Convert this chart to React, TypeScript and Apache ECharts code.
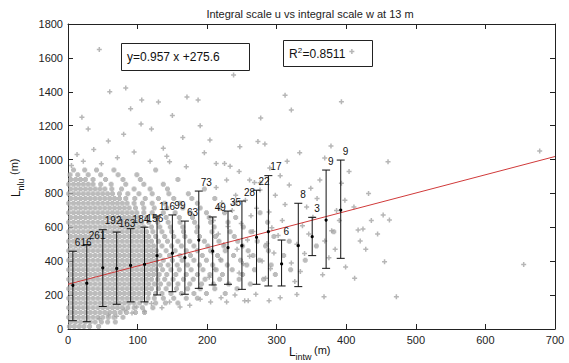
import React, { useEffect, useRef } from "react";
import * as echarts from "echarts";

const FONT = '"Liberation Sans", Arial, sans-serif';
const TITLE = "Integral scale u vs integral scale w at 13 m";
const EQUATION = "y=0.957 x +275.6";
const R2_VALUE = "=0.8511";

// Bin statistics (mean x of bin, mean, lower, upper, count)
const binX = [7, 27, 50, 70, 90, 110, 128, 150, 168, 188, 208, 230, 250, 271, 288, 307, 331, 351, 371, 392];
const binMean = [258, 270, 361, 357, 375, 381, 433, 447, 421, 525, 460, 480, 492, 541, 574, 384, 492, 545, 643, 702];
const binLow = [49, 43, 133, 146, 160, 160, 201, 220, 205, 240, 260, 264, 234, 264, 254, 254, 250, 433, 358, 417];
const binHigh = [459, 498, 586, 572, 592, 601, 667, 673, 637, 814, 661, 696, 755, 819, 905, 525, 742, 659, 938, 997];
const binCount = [616, 261, 192, 163, 184, 156, 116, 99, 63, 73, 49, 35, 28, 22, 17, 6, 8, 3, 9, 9];

// Fitted line as drawn
const fitX = [0, 700];
const fitY = [264, 1018];

// Dense cloud, row by row: [y, x values]
const denseRows: [number, number[]][] = [
  [15, [2, 9, 16, 23, 31, 44]],
  [42, [4, 11, 18, 25, 32, 39, 48, 57, 68]],
  [70, [1, 8, 15, 22, 29, 36, 43, 50, 58, 66, 79]],
  [98, [4, 11, 18, 25, 32, 39, 46, 53, 60, 67, 75, 84, 97, 110]],
  [126, [1, 8, 15, 22, 29, 36, 43, 50, 57, 64, 71, 78, 86, 95, 107, 122]],
  [154, [4, 11, 18, 25, 32, 39, 46, 53, 60, 67, 74, 81, 88, 95, 103, 112, 126, 140, 158]],
  [182, [1, 8, 15, 22, 29, 36, 43, 50, 57, 64, 71, 78, 85, 92, 99, 106, 115, 124, 137, 152, 170, 186]],
  [210, [4, 11, 18, 25, 32, 39, 46, 53, 60, 67, 74, 81, 88, 95, 102, 109, 116, 126, 135, 148, 163, 181, 199, 226]],
  [238, [1, 8, 15, 22, 29, 36, 43, 50, 57, 64, 71, 78, 85, 92, 99, 106, 113, 120, 130, 141, 156, 172, 190, 211, 243]],
  [266, [4, 11, 18, 25, 32, 39, 46, 53, 60, 67, 74, 81, 88, 95, 102, 109, 116, 124, 133, 145, 158, 175, 192, 209, 231, 262]],
  [294, [1, 8, 15, 22, 29, 36, 43, 50, 57, 64, 71, 78, 85, 92, 99, 106, 113, 120, 129, 139, 151, 166, 180, 197, 218, 246, 281]],
  [322, [4, 11, 18, 25, 32, 39, 46, 53, 60, 67, 74, 81, 88, 95, 102, 109, 116, 123, 131, 142, 155, 170, 186, 204, 222, 251, 298]],
  [350, [1, 8, 15, 22, 29, 36, 43, 50, 57, 64, 71, 78, 85, 92, 99, 106, 113, 120, 127, 136, 148, 160, 177, 194, 213, 236, 268, 320]],
  [378, [4, 11, 18, 25, 32, 39, 46, 53, 60, 67, 74, 81, 88, 95, 102, 109, 116, 123, 133, 144, 157, 172, 189, 208, 229, 257, 292]],
  [406, [1, 8, 15, 22, 29, 36, 43, 50, 57, 64, 71, 78, 85, 92, 99, 106, 113, 120, 127, 137, 150, 164, 181, 199, 220, 248, 275, 341]],
  [434, [4, 11, 18, 25, 32, 39, 46, 53, 60, 67, 74, 81, 88, 95, 102, 109, 116, 123, 132, 146, 161, 176, 193, 215, 238, 266, 310]],
  [462, [1, 8, 15, 22, 29, 36, 43, 50, 57, 64, 71, 78, 85, 92, 99, 106, 113, 120, 127, 141, 154, 170, 186, 205, 226, 259, 288]],
  [490, [4, 11, 18, 25, 32, 39, 46, 53, 60, 67, 74, 81, 88, 95, 102, 109, 116, 123, 135, 149, 163, 181, 201, 224, 251, 284, 357]],
  [518, [1, 8, 15, 22, 29, 36, 43, 50, 57, 64, 71, 78, 85, 92, 99, 106, 113, 120, 130, 143, 158, 175, 196, 217, 244, 272, 318]],
  [546, [4, 11, 18, 25, 32, 39, 46, 53, 60, 67, 74, 81, 88, 95, 102, 109, 116, 126, 139, 152, 168, 189, 212, 239, 296]],
  [574, [1, 8, 15, 22, 29, 36, 43, 50, 57, 64, 71, 78, 85, 92, 99, 106, 113, 122, 135, 149, 166, 185, 207, 233, 263, 382]],
  [602, [4, 11, 18, 25, 32, 39, 46, 53, 60, 67, 74, 81, 88, 95, 102, 109, 120, 132, 147, 165, 186, 210, 252]],
  [630, [1, 8, 15, 22, 29, 36, 43, 50, 57, 64, 71, 78, 85, 92, 99, 106, 116, 129, 144, 161, 182, 205, 230, 287]],
  [658, [4, 11, 18, 25, 32, 39, 46, 53, 60, 67, 74, 81, 88, 95, 102, 113, 126, 141, 160, 179, 203, 241]],
  [686, [1, 8, 15, 22, 29, 36, 43, 50, 57, 64, 71, 78, 85, 92, 99, 109, 121, 137, 154, 176, 199, 225, 276]],
  [714, [4, 11, 18, 25, 32, 39, 46, 53, 60, 67, 74, 81, 88, 97, 109, 124, 142, 165, 190, 218]],
  [742, [1, 8, 15, 22, 29, 36, 43, 50, 57, 64, 71, 78, 85, 95, 107, 121, 139, 161, 186, 240]],
  [770, [4, 11, 18, 25, 32, 39, 46, 53, 60, 67, 74, 83, 96, 111, 130, 152, 178, 211]],
  [798, [1, 8, 15, 22, 29, 36, 43, 50, 57, 64, 74, 86, 102, 121, 145, 173]],
  [826, [4, 11, 18, 25, 32, 39, 46, 53, 63, 77, 95, 118, 143, 196]],
  [854, [1, 8, 15, 22, 29, 36, 47, 62, 83, 109, 137]],
  [882, [4, 11, 18, 25, 36, 54, 79, 104, 158]],
  [910, [3, 14, 29, 47, 72, 99]],
  [938, [8, 24, 41, 66, 126]],
];

// Points below the dense cloud
const lowerPoints: [number, number][] = [
  [45, 60], [58, 83], [70, 75], [81, 112], [92, 95], [99, 130], [110, 105], [120, 150],
  [135, 125], [146, 160], [161, 130], [175, 140], [190, 175], [205, 160], [220, 185],
  [228, 160], [240, 200], [254, 166], [259, 166], [270, 205], [289, 166], [305, 185],
  [329, 204], [368, 191], [472, 191],
];

// Sparser cloud to the right
const midPoints: [number, number][] = [
  [203, 305], [211, 352], [219, 410], [207, 455], [224, 498], [216, 560], [230, 605], [209, 640],
  [236, 700], [221, 745], [241, 790], [213, 835], [228, 880], [246, 330], [252, 385], [261, 430],
  [243, 470], [258, 525], [266, 575], [249, 622], [263, 668], [271, 712], [255, 760], [276, 820],
  [268, 865], [284, 300], [291, 355], [279, 402], [296, 448], [286, 505], [302, 552], [293, 598],
  [308, 640], [289, 690], [312, 735], [298, 790], [318, 850], [305, 905], [326, 280], [334, 340],
  [321, 390], [340, 445], [329, 500], [346, 560], [337, 610], [352, 660], [343, 720], [358, 770],
  [349, 830], [362, 880], [366, 320], [375, 420], [369, 520], [384, 470], [379, 580], [390, 640],
  [386, 700], [398, 760], [393, 860], [404, 930], [412, 300], [420, 520], [428, 470], [436, 640],
  [445, 560], [411, 720], [432, 800], [453, 673], [462, 643], [417, 584], [424, 590], [455, 397],
  [399, 366], [655, 380],
];

// Upper scattered points
const upperPoints: [number, number][] = [
  [5, 965], [22, 990], [48, 975], [13, 1030], [37, 1060], [71, 1010], [95, 1045], [58, 1110],
  [118, 990], [142, 1020], [80, 1150], [29, 1180], [105, 1210], [137, 1066], [146, 987],
  [170, 958], [196, 1040], [213, 977], [225, 977], [204, 1115], [247, 1076], [273, 1106],
  [283, 1092], [165, 1130], [261, 879], [276, 863], [246, 930], [233, 960], [290, 950],
  [315, 990], [333, 1040], [369, 1009], [378, 1080], [460, 987], [60, 1400], [83, 1422],
  [106, 1351], [130, 1340], [171, 1369], [187, 1351], [238, 1499], [277, 1245], [312, 1380],
  [321, 1292], [393, 1341], [45, 1650], [408, 1637], [150, 1260], [90, 1300], [20, 1250],
  [120, 1180], [190, 1200], [678, 1050],
];

function buildDense(): [number, number][] {
  const pts: [number, number][] = [];
  denseRows.forEach(([y, xs]) => xs.forEach((x) => pts.push([x, y])));
  return pts;
}

// overlapping markers in the dense core blur into a solid patch
const BLOB = "path://M1,0h3v1h1v3h-1v1h-3v-1h-1v-3h1z";
// isolated "+" markers
const PLUS = "path://M1.75,0h1.5v1.75h1.75v1.5h-1.75v1.75h-1.5v-1.75h-1.75v-1.5h1.75z";

export default function App() {
  const ref = useRef<HTMLDivElement>(null);
  useEffect(() => {
    if (!ref.current) return;
    const chart = echarts.init(ref.current, undefined, { renderer: "svg" });
    const axisCommon = {
      axisLine: { show: true, onZero: false, lineStyle: { color: "#222", width: 1 } },
      axisTick: { show: true, inside: true, length: 5, lineStyle: { color: "#222" } },
      splitLine: { show: false },
    };
    const labelStyle = {
      fontSize: 11, color: "#222", margin: 5, fontFamily: FONT,
      formatter: (v: number) => String(v),
    };
    const errData = binX.map((x, i) => [x, binMean[i], binLow[i], binHigh[i], binCount[i]]);
    chart.setOption({
      animation: false,
      backgroundColor: "#ffffff",
      grid: { left: 68, right: 14, top: 24, bottom: 34, show: false },
      xAxis: [
        { type: "value", min: 0, max: 700, interval: 100, ...axisCommon, axisLabel: labelStyle },
        {
          type: "value", position: "top", min: 0, max: 700, interval: 100, ...axisCommon,
          axisLabel: { show: false },
        },
      ],
      yAxis: [
        { type: "value", min: 0, max: 1800, interval: 200, ...axisCommon, axisLabel: labelStyle },
        {
          type: "value", position: "right", min: 0, max: 1800, interval: 200, ...axisCommon,
          axisLabel: { show: false },
        },
      ],
      series: [
        {
          type: "scatter",
          data: buildDense(),
          symbol: BLOB,
          symbolSize: 5,
          itemStyle: { color: "#ababab" },
          silent: true,
          z: 1,
        },
        {
          type: "scatter",
          data: ([] as [number, number][]).concat(lowerPoints, midPoints, upperPoints),
          symbol: PLUS,
          symbolSize: 5,
          itemStyle: { color: "#a4a4a4" },
          silent: true,
          z: 1,
        },
        {
          type: "line",
          data: fitX.map((x, i) => [x, fitY[i]]),
          symbol: "none",
          lineStyle: { color: "#d03a3a", width: 1 },
          z: 2,
        },
        {
          type: "custom",
          data: errData,
          encode: { x: 0, y: [1, 2, 3] },
          z: 3,
          renderItem: (_params: any, api: any) => {
            const x = api.value(0);
            const top = api.coord([x, api.value(3)]);
            const bot = api.coord([x, api.value(2)]);
            const mid = api.coord([x, api.value(1)]);
            const cap = 4;
            const st = { stroke: "#111", lineWidth: 1 };
            return {
              type: "group",
              children: [
                { type: "line", shape: { x1: top[0], y1: top[1], x2: bot[0], y2: bot[1] }, style: st },
                { type: "line", shape: { x1: top[0] - cap, y1: top[1], x2: top[0] + cap, y2: top[1] }, style: st },
                { type: "line", shape: { x1: bot[0] - cap, y1: bot[1], x2: bot[0] + cap, y2: bot[1] }, style: st },
                { type: "circle", shape: { cx: mid[0], cy: mid[1], r: 1.6 }, style: { fill: "#000" } },
                {
                  type: "text", x: top[0] + 2, y: top[1] - 9,
                  style: { text: String(api.value(4)), fill: "#111", font: `10px ${FONT}`, align: "left", verticalAlign: "middle" },
                },
              ],
            };
          },
        },
      ],
      graphic: [
        {
          type: "text", x: 310, y: 14,
          style: { text: TITLE, fill: "#222", font: `11px ${FONT}`, align: "center", verticalAlign: "middle" },
        },
        {
          type: "rect", shape: { x: 121.5, y: 43.5, width: 128, height: 27 },
          style: { fill: "none", stroke: "#222", lineWidth: 1 }, z: 10,
        },
        {
          type: "text", x: 127, y: 57,
          style: { text: EQUATION, fill: "#111", font: `12px ${FONT}`, align: "left", verticalAlign: "middle" }, z: 10,
        },
        {
          type: "rect", shape: { x: 283.5, y: 40.5, width: 89, height: 26 },
          style: { fill: "none", stroke: "#222", lineWidth: 1 }, z: 10,
        },
        {
          type: "group", x: 289, y: 54, z: 10,
          children: [
            { type: "text", x: 0, y: 0, style: { text: "R", fill: "#111", font: `12px ${FONT}`, align: "left", verticalAlign: "middle" } },
            { type: "text", x: 8.7, y: -4, style: { text: "2", fill: "#111", font: `8px ${FONT}`, align: "left", verticalAlign: "middle" } },
            { type: "text", x: 13.5, y: 0, style: { text: R2_VALUE, fill: "#111", font: `12px ${FONT}`, align: "left", verticalAlign: "middle" } },
          ],
        },
        {
          type: "group", x: 289, y: 352,
          children: [
            { type: "text", x: 0, y: 0, style: { text: "L", fill: "#111", font: `12px ${FONT}`, align: "left", verticalAlign: "middle" } },
            { type: "text", x: 6.5, y: 5, style: { text: "intw", fill: "#111", font: `9px ${FONT}`, align: "left", verticalAlign: "middle" } },
            { type: "text", x: 25, y: -2, style: { text: "(m)", fill: "#111", font: `11px ${FONT}`, align: "left", verticalAlign: "middle" } },
          ],
        },
        {
          type: "group", x: 16, y: 197, rotation: Math.PI / 2,
          children: [
            { type: "text", x: 0, y: 0, style: { text: "L", fill: "#111", font: `12px ${FONT}`, align: "left", verticalAlign: "middle" } },
            { type: "text", x: 6.5, y: 5, style: { text: "nlu", fill: "#111", font: `9px ${FONT}`, align: "left", verticalAlign: "middle" } },
            { type: "text", x: 22, y: -2, style: { text: "(m)", fill: "#111", font: `11px ${FONT}`, align: "left", verticalAlign: "middle" } },
          ],
        },
      ],
    });
    return () => chart.dispose();
  }, []);
  return <div ref={ref} style={{ width: 569, height: 363, position: "absolute", left: 0, top: 0 }} />;
}
